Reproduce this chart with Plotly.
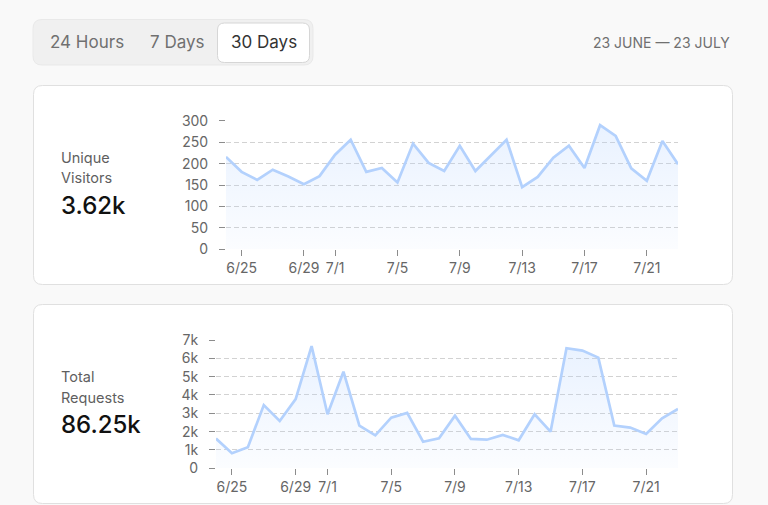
import plotly.graph_objects as go

dates = ["2024-06-%02d" % d for d in range(24, 31)] + ["2024-07-%02d" % d for d in range(1, 24)]
visitors = [216, 181, 162, 186, 170, 152, 171, 221, 256, 181, 190, 156, 247, 202,
            183, 242, 183, 220, 256, 145, 169, 214, 242, 190, 290, 265, 189, 160, 253, 199]
requests = [1620, 820, 1150, 3450, 2580, 3780, 6670, 2950, 5270, 2330, 1800, 2760, 3020, 1450,
            1640, 2870, 1600, 1560, 1820, 1530, 2950, 2000, 6550, 6420, 6040, 2330, 2220, 1870, 2730, 3240]
x_tick_vals = ["2024-06-25", "2024-06-29", "2024-07-01", "2024-07-05", "2024-07-09",
               "2024-07-13", "2024-07-17", "2024-07-21"]
x_tick_text = ["6/25", "6/29", "7/1", "7/5", "7/9", "7/13", "7/17", "7/21"]
v_ticks = [0, 50, 100, 150, 200, 250, 300]
r_ticks = [0, 1000, 2000, 3000, 4000, 5000, 6000, 7000]
r_tick_text = ["0", "1k", "2k", "3k", "4k", "5k", "6k", "7k"]
tabs = ["24 Hours", "7 Days", "30 Days"]
range_label = "23 JUNE — 23 JULY"
cards = [("Unique", "Visitors", "3.62k"), ("Total", "Requests", "86.25k")]

W, H = 768, 505
FONT = "Inter"
LINE = "#b3d1fd"


def px(x):
    return x / W


def py(y):
    return 1 - y / H


def rrect(x0, y0, x1, y1, r):
    X = lambda v: px(v)
    Y = lambda v: py(v)
    return (f"M{X(x0 + r)},{Y(y0)} L{X(x1 - r)},{Y(y0)} Q{X(x1)},{Y(y0)} {X(x1)},{Y(y0 + r)} "
            f"L{X(x1)},{Y(y1 - r)} Q{X(x1)},{Y(y1)} {X(x1 - r)},{Y(y1)} "
            f"L{X(x0 + r)},{Y(y1)} Q{X(x0)},{Y(y1)} {X(x0)},{Y(y1 - r)} "
            f"L{X(x0)},{Y(y0 + r)} Q{X(x0)},{Y(y0)} {X(x0 + r)},{Y(y0)} Z")


fig = go.Figure()

grad = [[0, "rgba(180,210,255,0.05)"], [1, "rgba(180,210,255,0.30)"]]
fig.add_trace(go.Scatter(
    x=dates, y=visitors, xaxis="x", yaxis="y", mode="lines",
    line=dict(color=LINE, width=2.7), fill="tozeroy",
    fillgradient=dict(type="vertical", start=0, stop=300, colorscale=grad),
    hoverinfo="skip", showlegend=False))
fig.add_trace(go.Scatter(
    x=dates, y=requests, xaxis="x2", yaxis="y2", mode="lines",
    line=dict(color=LINE, width=2.7), fill="tozeroy",
    fillgradient=dict(type="vertical", start=0, stop=7000, colorscale=grad),
    hoverinfo="skip", showlegend=False))

xcommon = dict(type="date", range=[dates[0], dates[-1]], tickvals=x_tick_vals, ticktext=x_tick_text,
               showgrid=False, zeroline=False, showline=False, ticks="outside", ticklen=6,
               tickcolor="#8c8c8c", tickwidth=1, tickfont=dict(family=FONT, size=14, color="#666666"),
               fixedrange=True, automargin=False)
ycommon = dict(showgrid=True, gridcolor="#d2d2d2", griddash="5px,3px", gridwidth=1,
               zeroline=False, showline=False, ticks="outside", ticklen=6, tickcolor="#8c8c8c",
               tickwidth=1, tickfont=dict(family=FONT, size=14, color="#666666"),
               ticklabelstandoff=8, fixedrange=True, automargin=False)

fig.update_layout(
    width=W, height=H, autosize=False,
    margin=dict(l=0, r=0, t=0, b=0, pad=0, autoexpand=False),
    paper_bgcolor="#f9f9f9", plot_bgcolor="rgba(0,0,0,0)",
    xaxis=dict(domain=[px(226), px(678)], anchor="y", **xcommon),
    yaxis=dict(domain=[py(249.3), py(120.9)], anchor="x", range=[0, 300], tickvals=v_ticks, **ycommon),
    xaxis2=dict(domain=[px(216), px(678)], anchor="y2", **xcommon),
    yaxis2=dict(domain=[py(468.3), py(340)], anchor="x2", range=[0, 7000], tickvals=r_ticks,
                ticktext=r_tick_text, **ycommon),
)

shapes = []
shapes.append(dict(type="path", path=rrect(33, 19.5, 313, 65, 9), xref="paper", yref="paper",
                   fillcolor="#f0f0f0", line=dict(color="#e9e9e9", width=1), layer="below"))
shapes.append(dict(type="path", path=rrect(217.5, 23, 309.5, 62.5, 7), xref="paper", yref="paper",
                   fillcolor="#ffffff", line=dict(color="#d6d6d6", width=1), layer="below"))
shapes.append(dict(type="path", path=rrect(33.5, 85.5, 732.5, 284.5, 9), xref="paper", yref="paper",
                   fillcolor="#ffffff", line=dict(color="#e0e0e0", width=1), layer="below"))
shapes.append(dict(type="path", path=rrect(33.5, 304.5, 732.5, 503.5, 9), xref="paper", yref="paper",
                   fillcolor="#ffffff", line=dict(color="#e0e0e0", width=1), layer="below"))
fig.update_layout(shapes=shapes)

ann = []
tab_x = [87, 177, 264]
for i, t in enumerate(tabs):
    ann.append(dict(text=t, x=px(tab_x[i]), y=py(42.5), xref="paper", yref="paper",
                    xanchor="center", yanchor="middle", showarrow=False,
                    font=dict(family=FONT, size=17, color="#333333" if i == 2 else "#707070")))
ann.append(dict(text=range_label, x=px(732), y=py(42.5), xref="paper", yref="paper",
                xanchor="right", yanchor="middle", showarrow=False,
                font=dict(family=FONT, size=14, color="#707070")))
card_y = [(157, 177, 206), (376, 397, 424)]
for (l1, l2, val), (y1, y2, y3) in zip(cards, card_y):
    ann.append(dict(text=l1, x=px(59), y=py(y1), xref="paper", yref="paper", xanchor="left",
                    yanchor="middle", showarrow=False, font=dict(family=FONT, size=14.5, color="#5f5f5f")))
    ann.append(dict(text=l2, x=px(59), y=py(y2), xref="paper", yref="paper", xanchor="left",
                    yanchor="middle", showarrow=False, font=dict(family=FONT, size=14.5, color="#5f5f5f")))
    ann.append(dict(text=val, x=px(59), y=py(y3), xref="paper", yref="paper", xanchor="left",
                    yanchor="middle", showarrow=False,
                    font=dict(family=FONT, size=24, color="#111111", weight=500)))
fig.update_layout(annotations=ann)

fig.write_html("out.html", config={"displayModeBar": False})
